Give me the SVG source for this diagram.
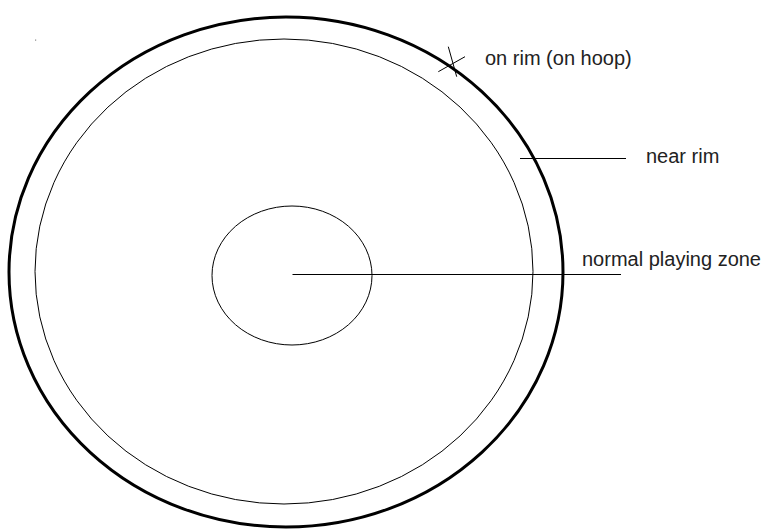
<svg xmlns="http://www.w3.org/2000/svg" width="768" height="530" viewBox="0 0 768 530">
<style>
.thin{fill:none;stroke:#000;stroke-width:1}
.thick{fill:none;stroke:#000;stroke-width:3}
.lbl{font-family:"Liberation Sans",Arial,sans-serif;font-size:20px;fill:#222}
</style>
<rect width="768" height="530" fill="#fff"/>
<rect x="35" y="39.5" width="1.2" height="1.2" fill="#888"/>
<g id="rim">
<ellipse class="thick" cx="286" cy="272" rx="277" ry="255"/>
</g>
<g id="near-rim-zone">
<ellipse class="thin" cx="284" cy="271.5" rx="249" ry="232.5"/>
</g>
<g id="normal-zone">
<ellipse class="thin" cx="292" cy="275.5" rx="80" ry="69.5"/>
</g>
<g id="connectors">
<line class="thin" x1="448.3" y1="46.7" x2="456.7" y2="76.7"/>
<line class="thin" x1="438.3" y1="71.7" x2="465" y2="56.7"/>
<line class="thin" x1="520" y1="158.5" x2="626" y2="158.5"/>
<line class="thin" x1="292.5" y1="274.5" x2="621" y2="274.5"/>
</g>
<g id="labels">
<text class="lbl" x="485" y="65">on rim (on hoop)</text>
<text class="lbl" x="646" y="163">near rim</text>
<text class="lbl" x="582" y="266">normal playing zone</text>
</g>
</svg>
